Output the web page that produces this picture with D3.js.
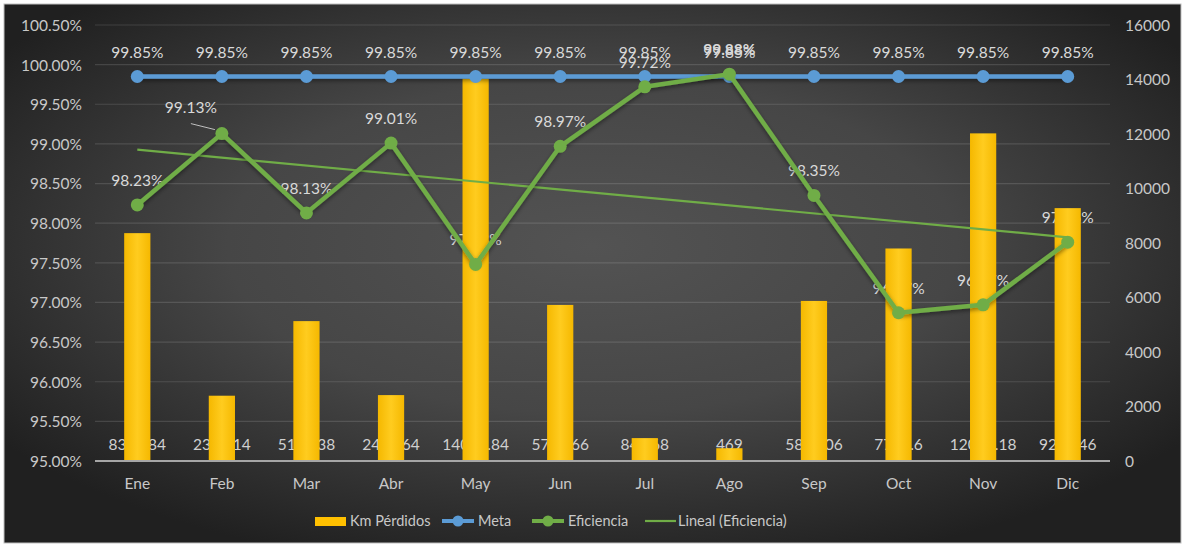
<!DOCTYPE html>
<html>
<head>
<meta charset="utf-8">
<script src="https://cdn.jsdelivr.net/npm/d3@7/dist/d3.min.js"></script>
<style>
  html, body { margin: 0; padding: 0; background: #ffffff; }
  svg { display: block; }
  text { font-family: Lato, "Open Sans", sans-serif; }
</style>
</head>
<body>
<svg id="chart" width="1184" height="547"></svg>
<script>
// Monthly data
const months = ["Ene","Feb","Mar","Abr","May","Jun","Jul","Ago","Sep","Oct","Nov","Dic"];
const kmPerdidos = [8361.84, 2396.14, 5133.38, 2418.64, 14031.84, 5727.66, 840.68, 469, 5874.06, 7798.6, 12023.18, 9279.46];
const meta = [99.85, 99.85, 99.85, 99.85, 99.85, 99.85, 99.85, 99.85, 99.85, 99.85, 99.85, 99.85];
const eficiencia = [98.23, 99.13, 98.13, 99.01, 97.48, 98.97, 99.72, 99.88, 98.35, 96.87, 96.97, 97.76];
const pctTicks = [95, 95.5, 96, 96.5, 97, 97.5, 98, 98.5, 99, 99.5, 100, 100.5];
const kmTicks = [0, 2000, 4000, 6000, 8000, 10000, 12000, 14000, 16000];
const legendItems = ["Km Pérdidos", "Meta", "Eficiencia", "Lineal (Eficiencia)"];

const W = 1184, H = 547;
const plot = { left: 95, right: 1110, top: 25, bottom: 461 };

const svg = d3.select("#chart");
const defs = svg.append("defs");

// Dark radial background
const bg = defs.append("radialGradient").attr("id", "bgGrad")
  .attr("cx", "50%").attr("cy", "45%").attr("r", "62%");
bg.append("stop").attr("offset", "0%").attr("stop-color", "#535353");
bg.append("stop").attr("offset", "50%").attr("stop-color", "#464646");
bg.append("stop").attr("offset", "100%").attr("stop-color", "#202020");

const barGrad = defs.append("linearGradient").attr("id", "barGrad")
  .attr("x1", "0").attr("x2", "1").attr("y1", "0").attr("y2", "0");
barGrad.append("stop").attr("offset", "0%").attr("stop-color", "#F5B800");
barGrad.append("stop").attr("offset", "50%").attr("stop-color", "#FFCC1F");
barGrad.append("stop").attr("offset", "100%").attr("stop-color", "#F5B800");

// Soft shadow under the series lines (user-space region so flat lines keep it)
const shadow = defs.append("filter").attr("id", "shadow")
  .attr("filterUnits", "userSpaceOnUse")
  .attr("x", 0).attr("y", 0).attr("width", W).attr("height", H);
shadow.append("feDropShadow").attr("dx", 0).attr("dy", 2).attr("stdDeviation", 2)
  .attr("flood-color", "#000").attr("flood-opacity", 0.45);

svg.append("rect").attr("x", 0).attr("y", 0).attr("width", W).attr("height", H).attr("fill", "#ffffff");
svg.append("rect").attr("x", 4).attr("y", 4).attr("width", W - 7).attr("height", H - 8)
  .attr("fill", "url(#bgGrad)").attr("stroke", "#bfbfbf").attr("stroke-width", 1);

// Scales
const x = d3.scaleBand().domain(months).range([plot.left, plot.right]).paddingInner(0.69).paddingOuter(0.345);
const xc = d => x(d) + x.bandwidth() / 2;
const yPct = d3.scaleLinear().domain([95, 100.5]).range([plot.bottom, plot.top]);
const yKm = d3.scaleLinear().domain([0, 16000]).range([plot.bottom, plot.top]);

// Gridlines
svg.append("g").selectAll("line").data(pctTicks.filter(t => t > 95)).join("line")
  .attr("x1", plot.left).attr("x2", plot.right)
  .attr("y1", d => yPct(d)).attr("y2", d => yPct(d))
  .attr("stroke", "rgba(255,255,255,0.13)").attr("stroke-width", 1.2);

// Left axis
const leftAxis = d3.axisLeft(yPct).tickValues(pctTicks).tickSize(0).tickPadding(0)
  .tickFormat(d => d3.format(".2f")(d) + "%");
const gL = svg.append("g").attr("transform", `translate(82,0)`).call(leftAxis);
gL.select(".domain").remove();
gL.selectAll("text").attr("fill", "#c8c8c8").style("font-size", "15.5px").attr("dy", "0.35em");

// Right axis
const rightAxis = d3.axisRight(yKm).tickValues(kmTicks).tickSize(0).tickPadding(0)
  .tickFormat(d3.format("d"));
const gR = svg.append("g").attr("transform", `translate(1125,0)`).call(rightAxis);
gR.select(".domain").remove();
gR.selectAll("text").attr("fill", "#c8c8c8").style("font-size", "15.5px").attr("dy", "0.35em");

// Bottom axis
const bottomAxis = d3.axisBottom(x).tickSize(0).tickPadding(0);
const gB = svg.append("g").attr("transform", `translate(0,${plot.bottom + 17})`).call(bottomAxis);
gB.select(".domain").remove();
gB.selectAll("text").attr("fill", "#c8c8c8").style("font-size", "15.5px").attr("dy", "0.71em");

// Data labels sit beneath the bars
const pctFmt = d => d3.format(".2f")(d) + "%";
const labelLayer = svg.append("g");
labelLayer.selectAll("text.km").data(kmPerdidos).join("text")
  .attr("class", "km")
  .attr("x", (d, i) => xc(months[i])).attr("y", yKm(0) - 11)
  .attr("text-anchor", "middle").attr("fill", "#d0d0d0").style("font-size", "15.5px")
  .text(d => String(d));

// Feb efficiency label is pulled aside with a leader line
const effShift = months.map(m => m === "Feb" ? [-31, -2] : [0, 0]);
labelLayer.selectAll("text.eff").data(eficiencia).join("text")
  .attr("class", "eff")
  .attr("x", (d, i) => xc(months[i]) + effShift[i][0])
  .attr("y", (d, i) => yPct(d) - 19 + effShift[i][1])
  .attr("text-anchor", "middle").attr("fill", "#d9d9d9").style("font-size", "15.5px")
  .style("font-weight", (d, i) => months[i] === "Ago" ? "700" : "400")
  .text(pctFmt);
labelLayer.append("line")
  .attr("x1", xc("Feb") - 31).attr("y1", yPct(eficiencia[1]) - 10)
  .attr("x2", xc("Feb") - 7).attr("y2", yPct(eficiencia[1]) - 4)
  .attr("stroke", "#bfbfbf").attr("stroke-width", 1);

// Bars
svg.append("g").selectAll("rect").data(kmPerdidos).join("rect")
  .attr("x", (d, i) => x(months[i])).attr("width", x.bandwidth())
  .attr("y", d => yKm(d)).attr("height", d => yKm(0) - yKm(d))
  .attr("fill", "url(#barGrad)");

// Baseline
svg.append("line").attr("x1", plot.left).attr("x2", plot.right)
  .attr("y1", plot.bottom).attr("y2", plot.bottom)
  .attr("stroke", "#a6a6a6").attr("stroke-width", 2);

// Linear trend of efficiency (least squares over month index)
const n = eficiencia.length;
const idx = d3.range(1, n + 1);
const mx = d3.mean(idx), my = d3.mean(eficiencia);
const slope = d3.sum(idx, (v, i) => (v - mx) * (eficiencia[i] - my)) / d3.sum(idx, v => (v - mx) * (v - mx));
const intercept = my - slope * mx;
const trend = idx.map(v => intercept + slope * v);
svg.append("line")
  .attr("x1", xc(months[0])).attr("y1", yPct(trend[0]))
  .attr("x2", xc(months[n - 1])).attr("y2", yPct(trend[n - 1]))
  .attr("stroke", "#70AD47").attr("stroke-width", 2.2);

// Meta line
const lineGen = yScale => d3.line().x((d, i) => xc(months[i])).y(d => yScale(d));
svg.append("path").datum(meta).attr("d", lineGen(yPct))
  .attr("fill", "none").attr("stroke", "#5B9BD5").attr("stroke-width", 4.5)
  .attr("filter", "url(#shadow)");
svg.append("g").selectAll("circle").data(meta).join("circle")
  .attr("cx", (d, i) => xc(months[i])).attr("cy", d => yPct(d)).attr("r", 6.5)
  .attr("fill", "#5B9BD5");

// Eficiencia line
svg.append("path").datum(eficiencia).attr("d", lineGen(yPct))
  .attr("fill", "none").attr("stroke", "#70AD47").attr("stroke-width", 4.5)
  .attr("stroke-linejoin", "round").attr("filter", "url(#shadow)");
svg.append("g").selectAll("circle").data(eficiencia).join("circle")
  .attr("cx", (d, i) => xc(months[i])).attr("cy", d => yPct(d)).attr("r", 6.5)
  .attr("fill", "#70AD47");

// Meta labels
svg.append("g").selectAll("text").data(meta).join("text")
  .attr("x", (d, i) => xc(months[i])).attr("y", d => yPct(d) - 19)
  .attr("text-anchor", "middle").attr("fill", "#d9d9d9").style("font-size", "15.5px")
  .text(pctFmt);

// Legend
const legY = 521;
const leg = svg.append("g");
const legX = [315, 442, 532, 645];
leg.append("rect").attr("x", legX[0]).attr("y", legY - 4).attr("width", 31).attr("height", 9).attr("fill", "#FFC000");
[["#5B9BD5", 1], ["#70AD47", 2]].forEach(([c, k]) => {
  leg.append("line").attr("x1", legX[k]).attr("x2", legX[k] + 32).attr("y1", legY).attr("y2", legY)
    .attr("stroke", c).attr("stroke-width", 4);
  leg.append("circle").attr("cx", legX[k] + 16).attr("cy", legY).attr("r", 5.5).attr("fill", c);
});
leg.append("line").attr("x1", legX[3]).attr("x2", legX[3] + 31).attr("y1", legY).attr("y2", legY)
  .attr("stroke", "#70AD47").attr("stroke-width", 2.2);
const legTextX = [350, 478, 568, 678];
leg.selectAll("text").data(legendItems).join("text")
  .attr("x", (d, i) => legTextX[i]).attr("y", legY).attr("dy", "0.35em")
  .attr("fill", "#c8c8c8").style("font-size", "14.5px")
  .text(d => d);
</script>
</body>
</html>
